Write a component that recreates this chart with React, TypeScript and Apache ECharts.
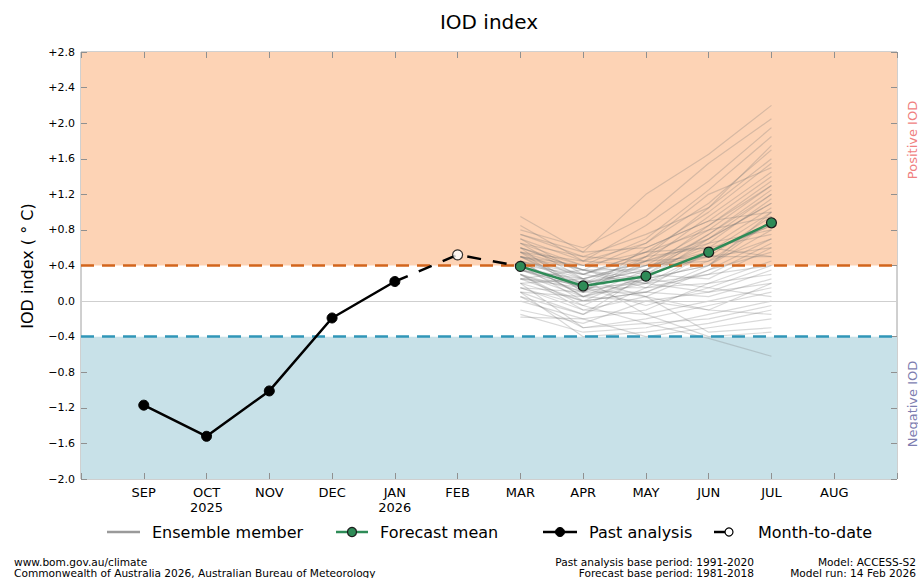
import React, { useEffect, useRef } from "react";
import * as echarts from "echarts";

const months = ["SEP", "OCT", "NOV", "DEC", "JAN", "FEB", "MAR", "APR", "MAY", "JUN", "JUL", "AUG"];
const yearLabels = ["", "2025", "", "", "2026", "", "", "", "", "", "", ""];

// Past analysis: SEP..JAN (indices 0-4)
const pastAnalysis = [-1.17, -1.52, -1.01, -0.19, 0.22];
// Month-to-date: FEB (index 5)
const monthToDate = 0.52;
// Forecast mean: MAR..JUL (indices 6-10)
const forecastMean = [0.39, 0.17, 0.28, 0.55, 0.88];
const forecastStart = 6;

// Ensemble members: MAR, APR, MAY, JUN, JUL
const ensembleMembers = [
  [0.95, 0.55, 1.2, 1.65, 2.2],
  [0.8, 0.6, 0.95, 1.55, 2.05],
  [0.7, 0.45, 0.85, 1.35, 1.95],
  [0.6, 0.4, 0.7, 1.25, 1.85],
  [0.55, 0.35, 0.65, 1.1, 1.7],
  [0.65, 0.5, 0.75, 1.05, 1.6],
  [0.5, 0.3, 0.55, 1.0, 1.55],
  [0.45, 0.25, 0.45, 0.95, 1.45],
  [0.75, 0.55, 0.6, 0.9, 1.4],
  [0.4, 0.2, 0.5, 0.85, 1.35],
  [0.35, 0.15, 0.4, 0.8, 1.3],
  [0.6, 0.35, 0.35, 0.75, 1.25],
  [0.3, 0.1, 0.45, 0.7, 1.2],
  [0.5, 0.4, 0.3, 0.65, 1.15],
  [0.45, 0.05, 0.25, 0.7, 1.1],
  [0.25, 0.2, 0.35, 0.6, 1.05],
  [0.7, 0.3, 0.2, 0.55, 1.0],
  [0.2, 0.0, 0.3, 0.5, 0.95],
  [0.55, 0.25, 0.4, 0.45, 0.9],
  [0.35, 0.15, 0.15, 0.55, 0.85],
  [0.15, -0.05, 0.25, 0.4, 0.8],
  [0.4, 0.3, 0.5, 0.6, 0.75],
  [0.6, 0.1, 0.1, 0.35, 0.7],
  [0.1, 0.05, 0.2, 0.3, 0.65],
  [0.45, 0.2, 0.3, 0.25, 0.6],
  [0.3, -0.1, 0.05, 0.35, 0.55],
  [0.85, 0.45, 0.4, 0.5, 0.5],
  [0.05, -0.15, 0.15, 0.2, 0.45],
  [0.5, 0.15, -0.05, 0.15, 0.4],
  [0.25, 0.35, 0.2, 0.1, 0.35],
  [0.0, -0.2, -0.1, 0.2, 0.3],
  [0.4, 0.0, 0.1, 0.05, 0.25],
  [-0.1, -0.25, 0.0, 0.1, 0.2],
  [0.35, 0.25, -0.15, 0.0, 0.15],
  [0.2, -0.3, -0.2, -0.05, 0.1],
  [0.55, 0.1, 0.25, 0.15, 0.05],
  [-0.15, -0.35, -0.3, -0.15, 0.0],
  [0.3, -0.05, -0.25, -0.2, -0.05],
  [0.1, -0.4, -0.35, -0.25, -0.1],
  [0.45, 0.05, 0.0, -0.1, -0.15],
  [-0.18, -0.2, -0.4, -0.3, -0.2],
  [0.25, 0.15, 0.05, -0.35, -0.3],
  [0.15, -0.1, -0.15, -0.4, -0.35],
  [0.05, -0.3, -0.25, -0.42, -0.62],
  [0.65, 0.4, 0.55, 0.8, 0.95],
  [0.5, 0.2, 0.35, 0.7, 1.1],
  [0.35, 0.1, 0.6, 0.9, 1.0],
  [0.75, 0.5, 0.45, 0.65, 0.8],
  [0.2, 0.25, 0.45, 0.5, 0.6],
  [0.4, 0.15, 0.2, 0.45, 0.7],
  [0.6, 0.35, 0.15, 0.3, 0.4],
  [0.3, 0.05, 0.35, 0.85, 1.3],
  [0.45, 0.3, 0.55, 0.6, 0.5],
  [0.25, 0.0, 0.1, 0.4, 0.9],
  [0.55, 0.45, 0.65, 1.2, 1.5],
  [0.1, -0.15, 0.3, 0.75, 1.2],
  [0.65, 0.25, 0.05, -0.1, 0.2],
  [0.35, 0.2, 0.4, 0.55, 0.85],
  [0.5, 0.35, 0.25, 0.4, 1.0],
  [0.15, 0.1, 0.5, 1.05, 1.75],
];

const yMin = -2.0;
const yMax = 2.8;
const yStep = 0.4;
const positiveThreshold = 0.4;
const negativeThreshold = -0.4;

const FONT = "DejaVu Sans";

function fmtY(v: number): string {
  const r = Math.round(v * 10) / 10;
  if (Math.abs(r) < 1e-9) return "0.0";
  if (r > 0) return "+" + r.toFixed(1);
  return "\u2212" + Math.abs(r).toFixed(1);
}

export default function App() {
  const ref = useRef<HTMLDivElement>(null);

  useEffect(() => {
    if (!ref.current) return;
    const chart = echarts.init(ref.current, null, { renderer: "svg" });

    const tick = { show: true, inside: true, length: 6, lineStyle: { color: "#909090" } };

    const ensembleSeries = ensembleMembers.map((m, k) => ({
      type: "line",
      name: "ens" + k,
      data: m.map((v, i) => [forecastStart + i, v]),
      showSymbol: false,
      symbol: "none",
      silent: true,
      z: 2,
      lineStyle: { color: "rgba(120,120,120,0.28)", width: 1.2 },
    }));

    const footer = (text: string, x: number, y: number, align: string) => ({
      type: "text",
      x,
      y,
      style: { text, fontFamily: FONT, fontSize: 10.6, fill: "#000", align, verticalAlign: "middle" },
    });

    const option: any = {
      animation: false,
      backgroundColor: "#ffffff",
      textStyle: { fontFamily: FONT },
      grid: {
        left: 81,
        right: 21,
        top: 52,
        bottom: 99,
        show: true,
        borderColor: "#a0a0a0",
        borderWidth: 1,
        backgroundColor: "transparent",
      },
      xAxis: [
        {
          type: "value",
          min: -1,
          max: 12,
          interval: 1,
          splitLine: { show: false },
          axisLine: { show: false, onZero: false },
          axisTick: tick,
          axisLabel: {
            color: "#000",
            fontFamily: FONT,
            fontSize: 13,
            lineHeight: 15,
            margin: 6,
            formatter: (v: number) => {
              const i = Math.round(v);
              if (i < 0 || i >= months.length) return "";
              return yearLabels[i] ? months[i] + "\n" + yearLabels[i] : months[i];
            },
          },
        },
        {
          type: "value",
          position: "top",
          min: -1,
          max: 12,
          interval: 1,
          splitLine: { show: false },
          axisLine: { show: false, onZero: false },
          axisTick: tick,
          axisLabel: { show: false },
        },
      ],
      yAxis: [
        {
          type: "value",
          position: "left",
          min: yMin,
          max: yMax,
          interval: yStep,
          splitLine: { show: false },
          axisLine: { show: false, onZero: false },
          axisTick: tick,
          axisLabel: {
            color: "#000",
            fontFamily: FONT,
            fontSize: 11,
            margin: 6,
            formatter: (v: number) => fmtY(v),
          },
        },
        {
          type: "value",
          position: "right",
          min: yMin,
          max: yMax,
          interval: yStep,
          splitLine: { show: false },
          axisLine: { show: false, onZero: false },
          axisTick: tick,
          axisLabel: { show: false },
        },
      ],
      series: [
        {
          type: "line",
          name: "bands",
          data: [],
          silent: true,
          z: 0,
          markArea: {
            silent: true,
            z: 0,
            data: [
              [
                { yAxis: positiveThreshold, itemStyle: { color: "#fdd3b5" } },
                { yAxis: yMax },
              ],
              [
                { yAxis: yMin, itemStyle: { color: "#c8e1e8" } },
                { yAxis: negativeThreshold },
              ],
            ],
          },
          markLine: {
            silent: true,
            symbol: "none",
            label: { show: false },
            lineStyle: { color: "#cfcfcf", width: 1, type: "solid" },
            data: [{ yAxis: 0 }],
          },
        },
        ...ensembleSeries,
        {
          type: "line",
          name: "thresholds",
          data: [],
          silent: true,
          z: 4,
          markLine: {
            silent: true,
            symbol: "none",
            label: { show: false },
            data: [
              { yAxis: positiveThreshold, lineStyle: { color: "#d2651d", width: 2.5, type: [13, 8] } },
              { yAxis: negativeThreshold, lineStyle: { color: "#3196b8", width: 2.5, type: [13, 8] } },
            ],
          },
        },
        {
          type: "line",
          name: "Past analysis",
          data: pastAnalysis.map((v, i) => [i, v]),
          symbol: "circle",
          symbolSize: 10,
          z: 6,
          lineStyle: { color: "#000", width: 2.5 },
          itemStyle: { color: "#000", borderColor: "#000", borderWidth: 1 },
        },
        {
          type: "line",
          name: "Month-to-date link",
          data: [
            [pastAnalysis.length - 1, pastAnalysis[pastAnalysis.length - 1]],
            [pastAnalysis.length, monthToDate],
            [forecastStart, forecastMean[0]],
          ],
          showSymbol: false,
          symbol: "none",
          z: 5,
          lineStyle: { color: "#000", width: 2.5, type: [14, 12] },
        },
        {
          type: "scatter",
          name: "Month-to-date",
          data: [[pastAnalysis.length, monthToDate]],
          symbol: "circle",
          symbolSize: 10,
          z: 7,
          itemStyle: { color: "#fff", borderColor: "#000", borderWidth: 1.2 },
        },
        {
          type: "line",
          name: "Forecast mean",
          data: forecastMean.map((v, i) => [forecastStart + i, v]),
          symbol: "circle",
          symbolSize: 10,
          z: 8,
          lineStyle: { color: "#2e8b57", width: 2.5 },
          itemStyle: { color: "#2e8b57", borderColor: "#1b1b1b", borderWidth: 1.2 },
        },
      ],
      graphic: [
        {
          type: "text",
          x: 489,
          y: 22,
          style: {
            text: "IOD index",
            fontFamily: FONT,
            fontSize: 20,
            fill: "#000",
            align: "center",
            verticalAlign: "middle",
          },
        },
        {
          type: "text",
          x: 27,
          y: 266,
          rotation: Math.PI / 2,
          style: {
            text: "IOD index ( \u00B0 C)",
            fontFamily: FONT,
            fontSize: 16,
            fill: "#000",
            align: "center",
            verticalAlign: "middle",
          },
        },
        {
          type: "text",
          x: 912,
          y: 140,
          rotation: Math.PI / 2,
          style: {
            text: "Positive IOD",
            fontFamily: FONT,
            fontSize: 13,
            fill: "#f08080",
            align: "center",
            verticalAlign: "middle",
          },
        },
        {
          type: "text",
          x: 912,
          y: 404,
          rotation: Math.PI / 2,
          style: {
            text: "Negative IOD",
            fontFamily: FONT,
            fontSize: 13,
            fill: "#7d7db0",
            align: "center",
            verticalAlign: "middle",
          },
        },
        // Legend
        {
          type: "line",
          shape: { x1: 107, y1: 532, x2: 140, y2: 532 },
          style: { stroke: "#9a9a9a", lineWidth: 2.5 },
        },
        {
          type: "text",
          x: 152,
          y: 532,
          style: { text: "Ensemble member", fontFamily: FONT, fontSize: 16, fill: "#000", verticalAlign: "middle" },
        },
        {
          type: "line",
          shape: { x1: 336, y1: 532, x2: 368, y2: 532 },
          style: { stroke: "#2e8b57", lineWidth: 2.5 },
        },
        {
          type: "circle",
          shape: { cx: 352, cy: 532, r: 4.5 },
          style: { fill: "#2e8b57", stroke: "#1b1b1b", lineWidth: 1.2 },
        },
        {
          type: "text",
          x: 380,
          y: 532,
          style: { text: "Forecast mean", fontFamily: FONT, fontSize: 16, fill: "#000", verticalAlign: "middle" },
        },
        {
          type: "line",
          shape: { x1: 543, y1: 532, x2: 577, y2: 532 },
          style: { stroke: "#000", lineWidth: 2.5 },
        },
        {
          type: "circle",
          shape: { cx: 560, cy: 532, r: 4.5 },
          style: { fill: "#000", stroke: "#000", lineWidth: 1 },
        },
        {
          type: "text",
          x: 589,
          y: 532,
          style: { text: "Past analysis", fontFamily: FONT, fontSize: 16, fill: "#000", verticalAlign: "middle" },
        },
        {
          type: "line",
          shape: { x1: 714, y1: 532, x2: 726, y2: 532 },
          style: { stroke: "#000", lineWidth: 2.5 },
        },
        {
          type: "circle",
          shape: { cx: 729, cy: 532, r: 4 },
          style: { fill: "#fff", stroke: "#000", lineWidth: 1.2 },
        },
        {
          type: "text",
          x: 758,
          y: 532,
          style: { text: "Month-to-date", fontFamily: FONT, fontSize: 16, fill: "#000", verticalAlign: "middle" },
        },
        // Footer
        footer("www.bom.gov.au/climate", 14, 561.5, "left"),
        footer("Commonwealth of Australia 2026, Australian Bureau of Meteorology", 14, 572.5, "left"),
        footer("Past analysis base period: 1991-2020", 754, 561.5, "right"),
        footer("Forecast base period: 1981-2018", 754, 572.5, "right"),
        footer("Model: ACCESS-S2", 916, 561.5, "right"),
        footer("Model run: 14 Feb 2026", 916, 572.5, "right"),
      ],
    };

    chart.setOption(option);
    return () => {
      chart.dispose();
    };
  }, []);

  return (
    <div
      ref={ref}
      style={{ width: 918, height: 578, position: "absolute", left: 0, top: 0 }}
    />
  );
}
